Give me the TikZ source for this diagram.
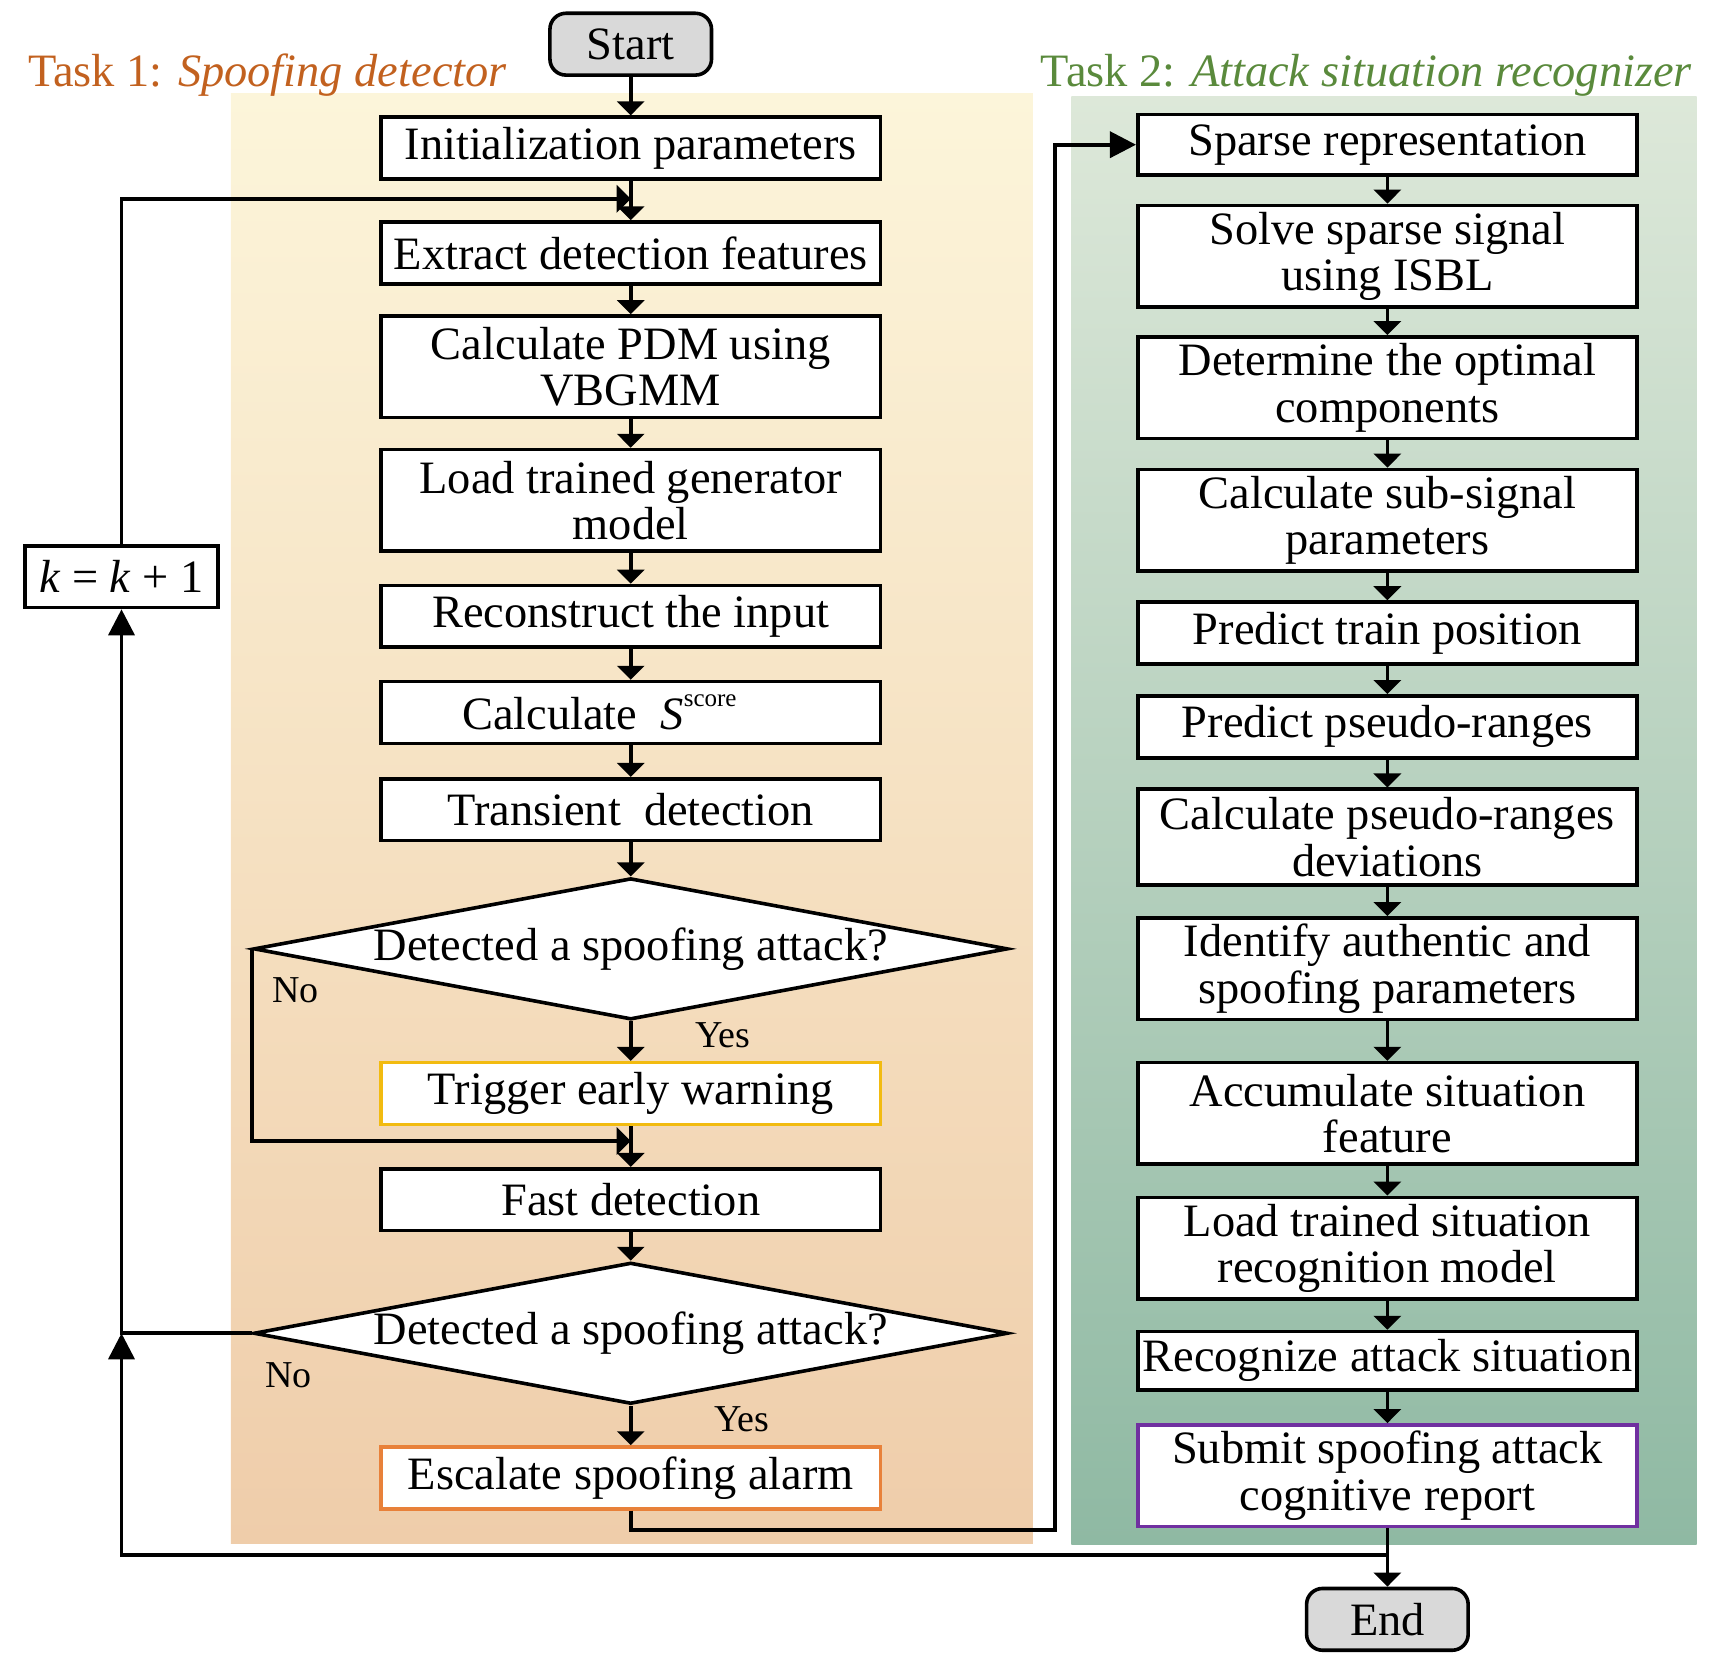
\documentclass[tikz,border=0pt]{standalone}
\usepackage{fontspec}
\setmainfont{Liberation Serif}
\usetikzlibrary{positioning, arrows.meta, shapes.geometric}

\definecolor{titleone}{HTML}{C2611F}
\definecolor{titletwo}{HTML}{5A8A3C}
\definecolor{panelonetop}{HTML}{FCF5DA}
\definecolor{panelonemid}{HTML}{F6E6BF}
\definecolor{paneloneend}{HTML}{EFCDAA}
\definecolor{paneltwotop}{HTML}{DDE8D9}
\definecolor{paneltwomid}{HTML}{B7CEB1}
\definecolor{paneltwoend}{HTML}{8FB9A3}
\definecolor{termgray}{HTML}{D9D9D9}
\definecolor{warnyellow}{HTML}{F2BB10}
\definecolor{alarmorange}{HTML}{E8813A}
\definecolor{reportpurple}{HTML}{7030A0}

\begin{document}
\begin{tikzpicture}
    [
        x=0.5523pt, y=-0.5523pt,
        font=\fontsize{23.2}{23.2}\selectfont,
        block/.style={draw, rectangle, fill=white, line width=1.8pt, minimum width=249.6pt, minimum height=30.9pt, inner sep=1pt, align=center},
        tall/.style={block, minimum height=50.8pt},
        term/.style={draw, rectangle, rounded corners=8pt, fill=termgray, line width=1.8pt, minimum width=80.8pt, minimum height=30.9pt},
        decision/.style={draw, diamond, aspect=5.34, fill=white, line width=1.8pt, inner sep=0pt, minimum width=377pt, minimum height=70.7pt},
        flow/.style={-{Triangle[length=7pt, width=13.5pt]}, line width=1.8pt},
        back/.style={-{Triangle[length=13pt, width=13pt]}, line width=1.8pt},
        tag/.style={font=\fontsize{19}{19}\selectfont, anchor=base west}
    ]
        \useasboundingbox (0,0) rectangle (1568,1512);
        % =========================================================================
        % PANELS
        % =========================================================================
        \shade [top color=panelonetop, middle color=panelonemid, bottom color=paneloneend] (209,85) rectangle (935,1397);
        \shade [top color=paneltwotop, middle color=paneltwomid, bottom color=paneltwoend] (970,87) rectangle (1536,1398);
        \node [anchor=base west, inner sep=0pt, text=titleone] (title1) at (25,78) {Task 1: \textit{Spoofing detector}};
        \node [anchor=base west, inner sep=0pt, text=titletwo] (title2) at (942,78) {Task 2: \textit{Attack situation recognizer}};

        % =========================================================================
        % NODES
        % =========================================================================
        % --- Task 1 ---
        \node [term] (start) at (571,40) {Start};
        \node [block] (init) at (571,134) {Initialization parameters};
        \node [block] (extract) at (571,229) {Extract detection features};
        \node [tall] (pdm) at (571,332) {Calculate PDM using\\VBGMM};
        \node [tall] (loadgen) at (571,453) {Load trained generator\\model};
        \node [block] (recon) at (571,558) {Reconstruct the input};
        \node [block] (score) at (571,645) {Calculate \ \textit{S}\raisebox{0.5em}{\fontsize{12.5}{12.5}\selectfont score}\hspace*{1.35em}};
        \node [block] (transient) at (571,733) {Transient\ \ detection};
        \node [decision] (det1) at (571,859) {Detected a spoofing attack?};
        \node [block, draw=warnyellow] (warn) at (571,990) {Trigger early warning};
        \node [block] (fast) at (571,1086) {Fast detection};
        \node [decision] (det2) at (571,1207) {Detected a spoofing attack?};
        \node [block, draw=alarmorange] (alarm) at (571,1338) {Escalate spoofing alarm};
        \node [block, minimum width=96.7pt] (kinc) at (110,522) {\textit{k} = \textit{k} + 1};
        % --- Task 2 ---
        \node [block, minimum height=30.4pt] (sparse) at (1256,131) {Sparse representation};
        \node [tall] (isbl) at (1256,232) {Solve sparse signal\\using ISBL};
        \node [tall] (optimal) at (1256,351) {Determine the optimal\\components};
        \node [tall] (subsig) at (1256,471) {Calculate sub-signal\\parameters};
        \node [block] (trainpos) at (1256,573) {Predict train position};
        \node [block] (predpr) at (1256,658) {Predict pseudo-ranges};
        \node [tall, minimum height=48pt] (prdev) at (1256,758) {Calculate pseudo-ranges\\deviations};
        \node [tall] (identify) at (1256,877) {Identify authentic and\\spoofing parameters};
        \node [tall] (accum) at (1256,1008) {Accumulate situation\\feature};
        \node [tall] (loadsit) at (1256,1130) {Load trained situation\\recognition model};
        \node [block, minimum height=29.3pt] (recog) at (1256,1232) {Recognize attack situation};
        \node [tall, draw=reportpurple] (report) at (1256,1336) {Submit spoofing attack\\cognitive report};
        \node [term] (stop) at (1256,1466) {End};
        % --- Joints ---
        \coordinate (loopin) at (571,180);
        \coordinate (mergein) at (571,1033);
        \coordinate (kjoin) at (110,1207);
        \coordinate (ret) at (1256,1408);
        \coordinate (bridge) at (955,1385);

        % =========================================================================
        % PATHS
        % =========================================================================
        % --- Task 1 main line ---
        \draw [flow] (start) -- (init);
        \draw [flow] (init) -- (extract);
        \draw [flow] (extract) -- (pdm);
        \draw [flow] (pdm) -- (loadgen);
        \draw [flow] (loadgen) -- (recon);
        \draw [flow] (recon) -- (score);
        \draw [flow] (score) -- (transient);
        \draw [flow] (transient) -- (det1);
        \draw [flow] (det1) -- (warn);
        \draw [flow] (warn) -- (fast);
        \draw [flow] (fast) -- (det2);
        \draw [flow] (det2) -- (alarm);
        % --- Task 1 branches ---
        \draw [flow] (det1.west) |- (mergein);
        \draw [back] (det2.west) -| (kinc.south);
        \draw [flow] (kinc.north) |- (loopin);
        \node [tag] (yes1) at (623,948) {Yes};
        \node [tag] (no1) at (240,908) {No};
        \node [tag] (yes2) at (640,1296) {Yes};
        \node [tag] (no2) at (234,1256) {No};
        % --- Hand over to Task 2 ---
        \draw [back] (alarm.south) |- (bridge) |- (sparse.west);
        % --- Task 2 main line ---
        \draw [flow] (sparse) -- (isbl);
        \draw [flow] (isbl) -- (optimal);
        \draw [flow] (optimal) -- (subsig);
        \draw [flow] (subsig) -- (trainpos);
        \draw [flow] (trainpos) -- (predpr);
        \draw [flow] (predpr) -- (prdev);
        \draw [flow] (prdev) -- (identify);
        \draw [flow] (identify) -- (accum);
        \draw [flow] (accum) -- (loadsit);
        \draw [flow] (loadsit) -- (recog);
        \draw [flow] (recog) -- (report);
        \draw [flow] (report) -- (stop);
        % --- Back to next epoch ---
        \draw [back] (report.south) -- (ret) -| (kjoin);

    \end{tikzpicture}
\end{document}
